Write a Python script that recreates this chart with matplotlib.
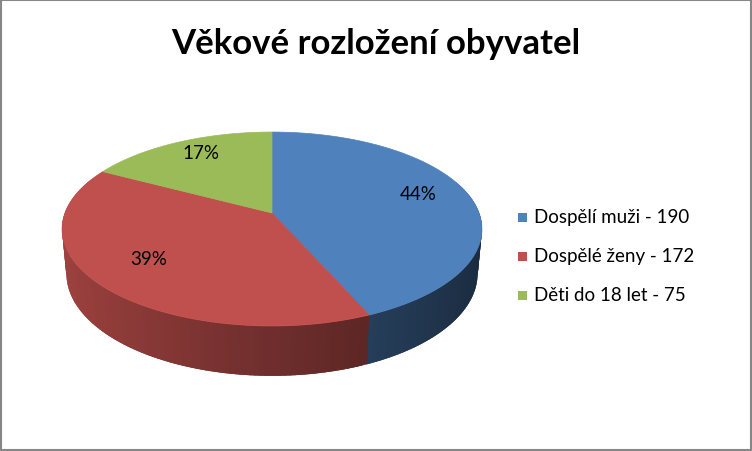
import matplotlib
matplotlib.use("Agg")
import matplotlib.pyplot as plt
import numpy as np
from matplotlib.colors import to_rgb
from matplotlib.patches import Polygon, Rectangle

# data
labels = ["Dospělí muži", "Dospělé ženy", "Děti do 18 let"]
values = [190, 172, 75]
colors = ["#4f81bd", "#c0504d", "#9bbb59"]
title = "Věkové rozložení obyvatel"

plt.rcParams["font.family"] = ["Lato", "DejaVu Sans"]

# 3D view (pixel space)
CX, CY = 272, 214
F, D = 1116.0, 5.39
elev = np.radians(27.1)
ce, se = np.cos(elev), np.sin(elev)
H = 0.244


def proj(t, r=1.0, z=0.0):
    x = r * np.cos(t)
    y = r * np.sin(t)
    depth = D + y * ce - z * se
    return CX + F * x / depth, CY - F * (y * se + z * ce) / depth, depth


fig = plt.figure(figsize=(7.52, 4.52), dpi=100)
ax = fig.add_axes([0, 0, 1, 1])
ax.set_xlim(0, 752)
ax.set_ylim(452, 0)
ax.axis("off")

vals = np.array(values, dtype=float)
frac = vals / vals.sum()
edges = np.pi / 2 - 2 * np.pi * np.concatenate([[0], np.cumsum(frac)])

# percent labels, rounded so they add to 100
raw = frac * 100
pct = np.floor(raw).astype(int)
for k in np.argsort(-(raw - pct))[: 100 - pct.sum()]:
    pct[k] += 1

# side strips (each overlaps the next a little to hide seams)
strips = []
for i in range(len(vals)):
    ts = np.linspace(edges[i], edges[i + 1], 120)
    step = ts[1] - ts[0]
    rgb = np.array(to_rgb(colors[i]))
    for j, (a, b) in enumerate(zip(ts[:-1], ts[1:])):
        m = 0.5 * (a + b)
        if np.sin(m) > 0.35:
            continue
        if j < len(ts) - 2:
            b = b + 1.2 * step
        seg = np.linspace(a, b, 4)
        tx, ty, _ = proj(seg)
        bx, by, _ = proj(seg[::-1], z=-H)
        pts = list(zip(tx, ty)) + list(zip(bx, by))
        shade = 0.58 - 0.25 * np.cos(m)
        _, _, dep = proj(m)
        strips.append((dep, pts, np.clip(rgb * shade, 0, 1)))
for dep, pts, col in sorted(strips, key=lambda s: -s[0]):
    ax.add_patch(Polygon(pts, closed=True, fc=col, ec="none"))

# top faces
for i in range(len(vals)):
    ts = np.linspace(edges[i], edges[i + 1], 200)
    px, py, _ = proj(ts)
    pts = [(CX, CY)] + list(zip(px, py))
    ax.add_patch(Polygon(pts, closed=True, fc=colors[i], ec=colors[i], lw=0.5))
    m = 0.5 * (edges[i] + edges[i + 1])
    lx, ly, _ = proj(m, r=0.74)
    ax.text(lx, ly - 6, f"{pct[i]}%", fontsize=13.5, ha="center", va="center", color="black")

# legend
for i in range(len(vals)):
    y = 218 + 39 * i
    ax.add_patch(Rectangle((518, y - 4.5), 9, 9, fc=colors[i], ec="none"))
    ax.text(534, y, f"{labels[i]} - {values[i]}", fontsize=13.5, ha="left", va="center", color="black")

ax.text(376, 44, title, fontsize=25, fontweight="bold", ha="center", va="center", color="black")

ax.add_patch(Rectangle((0.75, 0.75), 750.5, 450.5, fill=False, ec="#868686", lw=1.5))

fig.savefig("out.png", dpi=100, facecolor="white")
